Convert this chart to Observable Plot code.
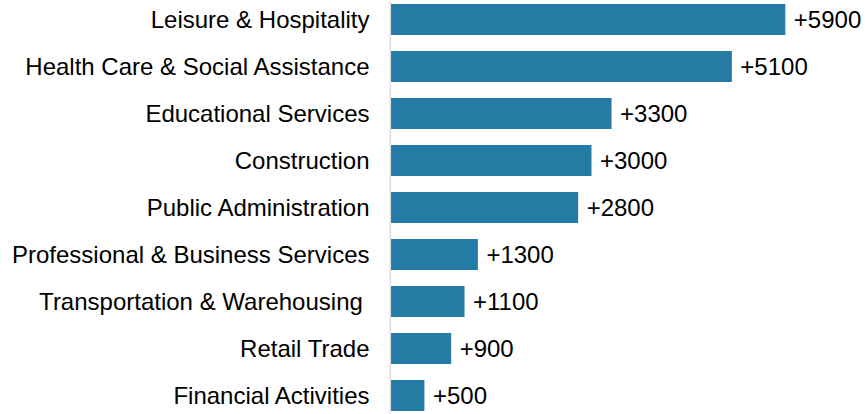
<!DOCTYPE html>
<html>
<head>
<meta charset="utf-8">
<script src="https://cdn.jsdelivr.net/npm/d3@7"></script>
<script src="https://cdn.jsdelivr.net/npm/@observablehq/plot@0.6"></script>
<style>
  html, body { margin: 0; padding: 0; background: #fff; }
  svg text { white-space: pre; }
</style>
</head>
<body>
<div id="chart"></div>
<script>
const categories = [
  "Leisure & Hospitality",
  "Health Care & Social Assistance",
  "Educational Services",
  "Construction",
  "Public Administration",
  "Professional & Business Services",
  "Transportation & Warehousing ",
  "Retail Trade",
  "Financial Activities"
];
const values = [5900, 5100, 3300, 3000, 2800, 1300, 1100, 900, 500];

const data = categories.map((c, i) => ({category: c, value: values[i]}));

const chart = Plot.plot({
  width: 865,
  height: 414,
  marginTop: 2,
  marginBottom: 0,
  marginLeft: 391,
  marginRight: 73,
  style: {fontFamily: "'Liberation Sans', Arial, sans-serif", fontSize: "24px", color: "#000", background: "#fff"},
  x: {domain: [0, 6000], axis: null},
  y: {domain: categories, paddingInner: 0.333, paddingOuter: 0, label: null},
  marks: [
    Plot.barX(data, {y: "category", x: "value", fill: "#247ca5"}),
    Plot.ruleX([0], {stroke: "#dddddd", strokeWidth: 1.5, dx: -1.2}),
    Plot.axisY({tickSize: 0, tickPadding: 22, fontSize: 24, fill: "#000", label: null}),
    Plot.text(data, {y: "category", x: "value", text: d => "+" + d.value, textAnchor: "start", dx: 8, fontSize: 24, fill: "#000"})
  ]
});
document.getElementById("chart").appendChild(chart);
</script>
</body>
</html>
